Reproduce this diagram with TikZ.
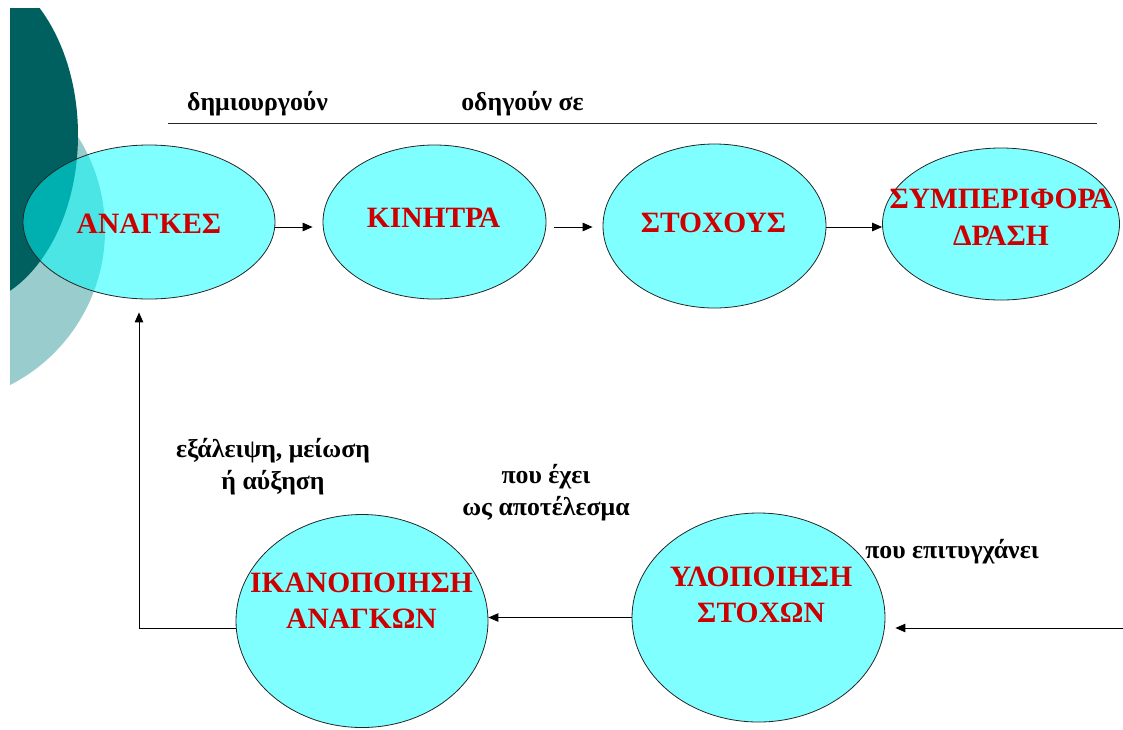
\documentclass[tikz,border=0pt]{standalone}
\usepackage{fontspec}
\setmainfont{Liberation Serif}
\usetikzlibrary{shapes.geometric,arrows.meta}
\definecolor{darkteal}{RGB}{0,96,96}
\definecolor{lightteal}{RGB}{153,204,204}
\definecolor{lblred}{RGB}{204,0,0}
\definecolor{bubfill}{RGB}{0,255,255}
\begin{document}
\begin{tikzpicture}[x=1pt,y=-1pt,
  bub/.style={ellipse, draw=black!85, line width=0.8pt, fill=bubfill, fill opacity=0.5, draw opacity=1, inner sep=0pt},
  lbl/.style={text=lblred, font=\fontsize{29.5}{36.5}\selectfont\bfseries, align=center, inner sep=0pt},
  caption/.style={font=\fontsize{25.8}{32}\selectfont\bfseries, align=center, inner sep=0pt},
  arr/.style={-{Triangle[length=10pt,width=8.5pt]}, line width=0.9pt}
]
\useasboundingbox (0,0) rectangle (1123,729);
\begin{scope}
  \clip (10,8) rectangle (1123,729);
  \fill[lightteal] (-69,230) circle[radius=174];
  \fill[darkteal] (-40,135) ellipse[x radius=118, y radius=172];
\end{scope}

% ellipses
\node[bub, minimum width=252pt, minimum height=154pt] (anag) at (149,222) {};
\node[bub, minimum width=223pt, minimum height=154pt] (kin) at (434.5,222) {};
\node[bub, minimum width=223pt, minimum height=164pt] (stox) at (714.5,226) {};
\node[bub, minimum width=237pt, minimum height=152pt] (symp) at (1001,224) {};
\node[bub, minimum width=252pt, minimum height=213pt] (ikan) at (362,621) {};
\node[bub, minimum width=253pt, minimum height=209pt] (ylo) at (758.5,617.5) {};

% red labels
\node[lbl] (anagT) at (149,224) {ΑΝΑΓΚΕΣ};
\node[lbl] (kinT) at (433.5,217.5) {ΚΙΝΗΤΡΑ};
\node[lbl] (stoxT) at (713.5,222.5) {ΣΤΟΧΟΥΣ};
\node[lbl] (sympT) at (1001,217) {ΣΥΜΠΕΡΙΦΟΡΑ\\ΔΡΑΣΗ};
\node[lbl] (ikanT) at (361.5,600.5) {ΙΚΑΝΟΠΟΙΗΣΗ\\ΑΝΑΓΚΩΝ};
\node[lbl] (yloT) at (761,595) {ΥΛΟΠΟΙΗΣΗ\\ΣΤΟΧΩΝ};

% captions
\node[caption] (c1) at (257.5,104) {δημιουργούν};
\node[caption] (c2) at (522.5,104) {οδηγούν σε};
\node[caption] (c3) at (273,467) {εξάλειψη, μείωση\\ή αύξηση};
\node[caption] (c4) at (546,493) {που έχει\\ως αποτέλεσμα};
\node[caption] (c5) at (952,552) {που επιτυγχάνει};

% top rule
\coordinate (tl1) at (168,123);
\coordinate (tl2) at (1097,123);
\draw[line width=0.9pt, black!85] (tl1) -- (tl2);

% connectors
\draw[arr] ([yshift=-5pt]anag.east) -- ([yshift=-5pt,xshift=-10pt]kin.west);
\draw[arr] ([xshift=8pt,yshift=-5pt]kin.east) -- ([xshift=-10pt,yshift=-1pt]stox.west);
\draw[arr] ([yshift=-1pt]stox.east) -- ([yshift=-3pt]symp.west);
\draw[arr] (ylo.west) -- (ylo.west -| ikan.east);
\coordinate (rin) at (1123,628);
\coordinate (rtip) at ([xshift=10pt]ylo.east);
\draw[arr] (rin) -- (rin -| rtip);
\draw[arr] ([yshift=-7pt]ikan.west) -| ([xshift=-10pt,yshift=-13pt]anag.south);
\end{tikzpicture}
\end{document}
